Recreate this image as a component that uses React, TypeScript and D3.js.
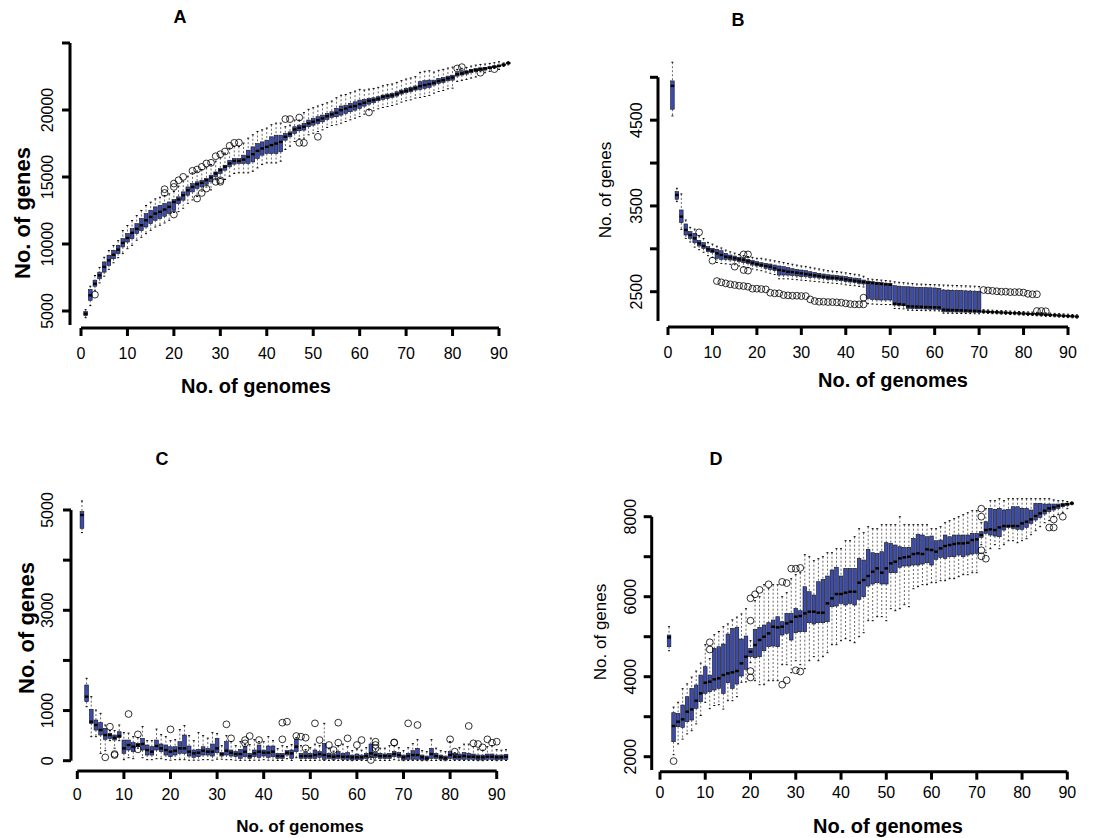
import React from "react";
import * as d3 from "d3";

const FONT = "'Liberation Sans', Arial, Helvetica, sans-serif";
const BOX_FILL = "#3B4CAE";

// ---------------- Panel A : pan-genome ----------------
const genomesA = d3.range(1, 93);
const A_lo = [4500,5400,6550,7100,7600,8110,8600,8980,9280,9650,9900,10280,10500,10770,11020,11270,11400,11570,11770,12350,12420,12670,13040,13290,13540,13950,14250,14040,14800,14900,14810,15060,15260,15310,15310,15310,15430,15680,15930,16050,16050,16050,16180,17050,17300,17650,17850,17900,18150,18270,18400,18520,18700,18850,18900,19020,19140,19270,19390,19510,19690,20000,19940,20090,20190,20260,20340,20440,20590,20690,20760,20890,20940,21010,21090,21260,21380,21460,21580,21630,22130,22210,22280,22380,22460,22850,22780,22880,23100,23030,23250,23370];
const A_q1 = [4650,5800,6850,7400,7900,8410,8900,9280,9780,10150,10400,10780,11000,11270,11520,11770,11900,12070,12270,12520,13020,13270,13640,13890,14140,14260,14460,14640,15010,15260,15510,15760,15960,16010,16010,16010,16130,16380,16630,16750,16750,16750,16880,17750,18000,18250,18450,18500,18750,18870,19000,19120,19300,19450,19500,19620,19740,19870,19990,20110,20290,20440,20540,20690,20790,20860,20940,21040,21190,21290,21360,21490,21540,21610,21690,21860,21980,22060,22180,22230,22530,22610,22680,22780,22860,22930,22980,23080,23150,23230,23330,23450];
const A_med = [4800,6170,7040,7660,8290,8780,9200,9580,10080,10450,10830,11130,11400,11770,12020,12270,12400,12570,12770,13140,13320,13640,14010,14260,14460,14560,14760,14960,15260,15510,15760,16010,16200,16200,16300,16500,16700,16950,17130,17250,17380,17500,17620,18000,18200,18550,18670,18750,19000,19120,19240,19370,19540,19670,19790,19990,20110,20240,20290,20440,20540,20690,20740,20840,20990,21040,21090,21190,21340,21430,21530,21630,21780,21860,21930,22030,22160,22230,22360,22430,22680,22730,22830,22930,22980,23050,23100,23150,23230,23300,23380,23500];
const A_q3 = [4950,6600,7300,7900,8660,9160,9530,9900,10400,10780,11150,11520,11900,12270,12520,12770,12890,13020,13140,13320,13520,13890,14260,14510,14640,14760,14890,15130,15380,15630,15880,16250,16380,16380,16630,17000,17250,17500,17620,17750,18000,18120,18120,18250,18370,18750,18870,19000,19250,19370,19500,19620,19740,19870,20120,20300,20360,20490,20610,20740,20790,20860,20910,20990,21110,21190,21240,21360,21490,21610,21690,21790,22110,22190,22230,22230,22360,22430,22530,22600,22780,22860,22930,23030,23100,23150,23180,23230,23280,23350,23430,23530];
const A_hi = [5100,6850,7650,8250,9010,9510,9880,10250,11000,11380,11750,12120,12500,12870,13120,13370,13490,13620,13740,13920,14320,14690,15060,15310,15440,15560,15690,15930,16180,16430,16780,17150,17280,17280,17530,17900,18150,18400,18520,18650,18900,19020,19020,18750,18870,19250,19250,19800,20050,20170,20300,20420,20540,20670,20920,21100,21160,21290,21410,21540,21490,21560,21610,21690,21810,21890,21940,22060,22190,22310,22390,22490,22810,22890,22930,22830,22960,23030,23130,23200,23030,23110,23180,23280,23350,23400,23430,23480,23530,23600,23510,23610];
const A_out = [[3,6220],[18,14090],[18,13810],[20,14510],[20,14260],[21,14760],[22,15010],[24,15460],[25,15560],[26,15760],[27,16010],[28,16060],[29,16550],[30,16700],[31,16900],[32,17330],[33,17550],[34,17570],[20,12200],[25,13390],[26,13810],[27,14140],[29,14640],[30,14640],[30,14760],[44,19320],[45,19320],[47,19440],[47,17550],[48,17550],[51,18000],[62,19820],[81,23100],[82,23200],[86,22780],[89,23050]];
const A_yTicks = [5000, 10000, 15000, 20000, 25000];
const A_yLabels = ["5000", "10000", "15000", "20000", ""];

// ---------------- Panel B : core genome ----------------
const genomesB = d3.range(1, 93);
const B_lo = [4550,3550,3227,3122,3080,3020,2990,2960,2920,2900,2840,2830,2825,2820,2815,2800,2790,2780,2765,2755,2745,2730,2715,2700,2650,2650,2650,2645,2640,2635,2630,2625,2620,2615,2610,2605,2600,2595,2590,2580,2575,2570,2562,2555,2360,2356,2354,2352,2350,2350,2305,2302,2300,2285,2283,2281,2280,2279,2278,2277,2276,2250,2249,2248,2247,2246,2245,2244,2243,2242,2250,2247,2244,2242,2239,2237,2234,2232,2229,2227,2224,2222,2219,2216,2213,2210,2207,2204,2201,2198,2195,2192];
const B_q1 = [4628,3578,3305,3161,3122,3070,3033,3005,2967,2955,2889,2877,2877,2870,2862,2850,2838,2830,2811,2800,2792,2772,2760,2745,2694,2694,2694,2690,2683,2675,2675,2667,2667,2659,2652,2644,2644,2636,2628,2617,2613,2605,2597,2590,2422,2410,2405,2403,2403,2403,2344,2340,2336,2305,2303,2301,2300,2298,2296,2295,2293,2266,2265,2264,2263,2262,2261,2260,2259,2258,2262,2259,2256,2254,2251,2249,2246,2244,2241,2239,2236,2234,2231,2228,2225,2222,2219,2216,2213,2210,2207,2205];
const B_med = [4900,3628,3375,3220,3161,3122,3064,3033,2994,2978,2947,2928,2908,2900,2889,2877,2870,2854,2838,2823,2811,2800,2792,2772,2753,2745,2733,2729,2722,2714,2706,2698,2690,2683,2675,2667,2663,2659,2652,2644,2636,2628,2620,2613,2605,2600,2595,2590,2585,2580,2360,2355,2350,2330,2328,2326,2324,2322,2320,2318,2316,2290,2288,2286,2284,2282,2280,2278,2276,2274,2268,2265,2262,2260,2257,2255,2252,2250,2247,2245,2242,2240,2237,2234,2231,2228,2225,2222,2219,2216,2213,2210];
const B_q3 = [4958,3667,3453,3290,3200,3180,3095,3072,3025,3005,2994,2978,2947,2928,2916,2900,2889,2877,2862,2850,2838,2830,2823,2811,2800,2792,2780,2768,2760,2753,2745,2733,2722,2714,2706,2698,2694,2690,2683,2675,2667,2659,2652,2636,2624,2617,2610,2605,2600,2597,2570,2565,2560,2558,2555,2552,2550,2548,2546,2544,2540,2520,2518,2516,2514,2512,2510,2508,2506,2504,2276,2273,2270,2268,2265,2263,2260,2258,2255,2253,2250,2248,2245,2242,2239,2236,2233,2230,2227,2224,2220,2216];
const B_hi = [5176,3706,3640,3336,3250,3230,3150,3120,3075,3055,3030,3010,2985,2965,2950,2935,2920,2910,2900,2890,2890,2880,2870,2860,2850,2840,2830,2820,2810,2800,2795,2785,2775,2765,2755,2745,2740,2735,2728,2720,2712,2704,2696,2680,2650,2645,2640,2635,2630,2625,2615,2610,2605,2600,2595,2590,2588,2586,2584,2582,2580,2578,2576,2574,2572,2570,2568,2566,2564,2560,2290,2287,2284,2282,2279,2277,2274,2272,2269,2267,2264,2262,2259,2256,2253,2250,2247,2244,2241,2238,2234,2230];
const B_out = [[7,3192],[10,2862],[15,2792],[17,2935],[18,2935],[17,2753],[18,2745],
  [11,2624],[12,2609],[13,2597],[14,2586],[15,2578],[16,2570],[17,2566],[18,2558],[19,2535],[20,2535],[21,2531],[22,2527],[23,2488],[24,2481],[25,2481],[26,2461],[27,2457],[28,2453],[29,2453],[30,2449],[31,2449],[32,2410],[33,2391],[34,2383],[35,2383],[36,2379],[37,2379],[38,2376],[39,2372],[40,2364],[41,2356],[42,2352],[43,2352],[44,2352],[44,2430],
  [71,2520],[72,2515],[73,2510],[74,2505],[75,2500],[76,2500],[77,2495],[78,2495],[79,2495],[80,2490],[81,2475],[82,2470],[83,2470],[83,2275],[84,2275],[85,2272]];
const B_yTicks = [2500, 3000, 3500, 4000, 4500, 5000];
const B_yLabels = ["2500", "", "3500", "", "4500", ""];

// ---------------- Panel C : new genes ----------------
const genomesC = d3.range(1, 93);
const C_lo = [4549,1077,479,479,146,200,400,250,400,20,60,40,250,60,20,20,40,40,20,10,20,20,20,10,10,10,20,20,10,30,30,20,20,10,5,10,5,10,10,20,10,10,5,5,40,5,60,5,5,5,5,10,5,5,5,5,5,5,0,5,5,5,30,10,5,5,5,20,10,0,5,5,5,0,0,5,5,5,0,5,5,5,5,5,5,0,0,5,5,0,5,5];
const C_q1 = [4635,1177,745,612,512,426,446,412,459,146,213,180,279,213,113,113,213,180,113,80,113,146,146,93,67,80,113,113,93,160,93,113,93,80,47,80,47,80,67,93,67,80,47,47,113,47,180,47,47,47,47,67,27,47,27,47,27,27,13,27,27,47,67,67,47,47,47,80,67,13,27,27,27,13,13,47,47,27,13,47,27,27,27,27,27,13,13,27,27,13,27,27];
const C_med = [4900,1277,778,712,612,512,512,459,492,246,313,280,313,333,213,180,293,246,213,180,200,246,246,180,146,160,200,180,180,246,133,200,160,133,133,180,93,146,180,160,160,180,93,93,160,146,280,93,93,93,113,133,113,93,80,93,80,80,67,67,67,93,146,113,93,93,93,133,113,67,93,113,113,67,47,133,93,67,47,113,80,80,93,80,80,67,67,80,80,67,67,80];
const C_q3 = [4968,1510,1024,811,758,645,545,512,578,412,412,359,346,446,313,279,412,333,313,279,279,379,512,293,213,226,279,246,333,446,160,379,213,180,226,279,146,213,313,213,293,293,146,146,200,213,426,146,160,146,213,180,346,146,133,180,146,160,113,133,113,146,333,160,146,133,146,180,160,113,146,200,246,113,93,246,146,113,93,180,146,133,160,146,133,113,113,133,133,113,113,126];
const C_hi = [5180,1643,1277,1010,944,712,600,600,712,560,550,480,460,680,400,400,630,520,480,400,420,620,700,500,400,560,500,450,560,540,300,500,380,300,380,320,320,420,380,380,480,400,240,300,280,320,460,300,220,260,330,300,745,250,190,300,330,280,200,230,210,260,450,230,250,250,300,300,260,200,260,340,420,200,180,420,250,200,180,380,160,260,330,330,280,230,210,280,300,220,210,220];
const C_out = [[6,67],[7,678],[8,133],[8,113],[11,931],[13,525],[13,226],[20,625],[32,725],[33,446],[36,346],[36,412],[37,492],[39,412],[44,758],[44,426],[45,778],[47,492],[48,479],[49,459],[49,246],[51,745],[52,412],[54,313],[55,213],[56,758],[56,359],[58,446],[60,313],[61,412],[63,13],[64,313],[64,246],[64,379],[68,359],[68,365],[71,745],[73,712],[80,426],[81,180],[84,692],[85,346],[86,333],[87,266],[88,426],[89,359],[90,379]];
const C_yTicks = [0, 1000, 2000, 3000, 4000, 5000];
const C_yLabels = ["0", "1000", "", "3000", "", "5000"];

// ---------------- Panel D : accessory genes ----------------
const genomesD = d3.range(2, 92);
const D_lo = [4650,2050,2320,2440,2570,2650,2820,3030,3360,3200,3280,3300,3190,3400,3400,3500,3860,3870,4350,3900,3800,3800,3900,3900,3900,4300,4300,4100,4400,4300,4200,4400,4500,4400,4500,4600,4800,4800,4900,4950,4900,4850,5000,5100,5400,5400,5500,5500,5400,5700,5650,5700,5800,5750,6200,6250,6300,6300,6350,6350,6400,6400,6450,6450,6500,6550,6550,6600,6600,7300,7100,7200,7300,7200,7300,7400,7400,7350,7400,7450,7550,7650,7750,7850,7900,8000,8050,8100,8200,8300];
const D_q1 = [4750,2375,2750,2733,2875,2917,3208,3375,3583,3625,3667,3708,3583,3850,3708,3817,4017,4183,4500,4475,4500,4650,4750,4767,4750,5042,5083,4917,5100,5125,5125,5350,5317,5350,5350,5375,5750,5767,5833,5792,5833,5792,5933,6000,6267,6317,6350,6317,6317,6600,6600,6733,6767,6767,6792,6792,6817,6850,6792,6933,6983,6958,7000,7000,7042,7000,7042,7067,7083,7483,7583,7542,7517,7500,7667,7733,7708,7683,7683,7733,7833,7917,7983,8067,8125,8167,8208,8250,8283,8317];
const D_med = [4983,2767,2875,2933,3125,3183,3400,3583,3850,3875,3933,3958,4042,4083,4108,4142,4333,4500,4625,4792,4917,5000,5083,5250,5233,5250,5333,5375,5500,5517,5583,5625,5625,5600,5600,5833,5958,6067,6067,6100,6125,6125,6350,6417,6517,6625,6708,6600,6708,6833,6875,6958,6983,7000,7067,7083,7067,7183,7167,7125,7208,7267,7292,7317,7333,7333,7350,7417,7433,7542,7667,7683,7667,7733,7767,7767,7767,7767,7833,7875,7933,8017,8083,8150,8208,8233,8267,8292,8317,8333];
const D_q3 = [5042,3100,3083,3292,3500,3708,3792,4042,4250,4042,4708,4750,4817,5067,5208,5233,4942,5017,4708,5183,5233,5292,5350,5417,5500,5375,5583,5583,5708,5650,6250,6125,6042,6375,6433,6517,6667,6733,6517,6708,6708,6708,6958,6917,7183,7100,7083,7125,7350,7333,7292,7250,7233,7233,7458,7558,7542,7500,7517,7400,7417,7542,7500,7542,7542,7542,7542,7583,7583,7625,7875,8208,8183,8208,8167,8183,8250,8250,8208,8208,8167,8333,8333,8317,8317,8317,8317,8333,8333,8350];
const D_hi = [5250,3240,3360,3700,3820,3990,4140,4340,4800,4450,5050,5130,5250,5320,5420,5490,5570,5700,4900,5900,6000,6300,6200,6300,6300,6000,6100,6450,6550,6600,7050,7000,6900,6950,7000,7100,7100,7200,7200,7400,7400,7500,7700,7600,7750,7700,7700,7800,7800,7800,7800,8000,7800,7800,7800,7800,7800,7800,7700,7700,7750,7850,7900,7950,8000,8050,8100,8150,8150,7850,8200,8400,8400,8450,8400,8450,8450,8450,8450,8450,8450,8450,8450,8450,8450,8420,8400,8400,8380,8370];
const D_out = [[3,1890],[11,4860],[11,4680],[20,5400],[20,5960],[21,6060],[22,6170],[24,6310],[20,4140],[20,3980],[27,6370],[28,6340],[27,3800],[28,3910],[29,6700],[30,6700],[31,6720],[30,4160],[31,4130],[71,8200],[71,8000],[71,7160],[71,7010],[72,6950],[86,7730],[87,7730],[87,7930],[89,8000]];
const D_yTicks = [2000, 3000, 4000, 5000, 6000, 7000, 8000];
const D_yLabels = ["2000", "", "4000", "", "6000", "", "8000"];

const xTicks = d3.range(0, 100, 10);

type Cfg = {
  title: string; titleX: number; titleY: number;
  genomes: number[]; lo: number[]; q1: number[]; med: number[]; q3: number[]; hi: number[];
  out: number[][];
  xRange: [number, number]; xAxisY: number; xLabelY: number;
  xTitleX: number; xTitleY: number; xTitleSize: number;
  yDomain: [number, number]; yRange: [number, number]; yAxisX: number; yLineBottom: number;
  yTicks: number[]; yLabels: string[]; yLabelX: number;
  yTitleX: number; yTitleY: number; yTitleSize: number; yTitleBold: boolean;
};

function BoxPanel({ c }: { c: Cfg }) {
  const x = d3.scaleLinear().domain([0, 90]).range(c.xRange);
  const y = d3.scaleLinear().domain(c.yDomain).range(c.yRange);
  const bw = (x(1) - x(0)) * 0.8;
  const cap = bw * 0.55;
  const yTop = y(c.yTicks[c.yTicks.length - 1]);
  return (
    <g>
      <text x={c.titleX} y={c.titleY} textAnchor="middle" dominantBaseline="central"
        fontFamily={FONT} fontWeight="bold" fontSize={18}>{c.title}</text>
      {/* whiskers */}
      {c.genomes.map((g, i) => {
        const cx = x(g);
        return (
          <g key={"w" + i} stroke="#000">
            <line x1={cx} x2={cx} y1={y(c.hi[i])} y2={y(c.q3[i])} strokeWidth={0.6} strokeDasharray="2,2" />
            <line x1={cx} x2={cx} y1={y(c.q1[i])} y2={y(c.lo[i])} strokeWidth={0.6} strokeDasharray="2,2" />
            <line x1={cx - cap / 2} x2={cx + cap / 2} y1={y(c.hi[i])} y2={y(c.hi[i])} strokeWidth={1} />
            <line x1={cx - cap / 2} x2={cx + cap / 2} y1={y(c.lo[i])} y2={y(c.lo[i])} strokeWidth={1} />
          </g>
        );
      })}
      {/* boxes */}
      {c.genomes.map((g, i) => {
        const cx = x(g);
        const top = y(c.q3[i]);
        const bot = y(c.q1[i]);
        return (
          <g key={"b" + i}>
            <rect x={cx - bw / 2} y={top} width={bw} height={Math.max(bot - top, 0.6)}
              fill={BOX_FILL} stroke="#111" strokeWidth={0.6} />
            <line x1={cx - bw / 2} x2={cx + bw / 2} y1={y(c.med[i])} y2={y(c.med[i])}
              stroke="#000" strokeWidth={2.4} />
          </g>
        );
      })}
      {/* outliers */}
      {c.out.map((o, i) => (
        <circle key={"o" + i} cx={x(o[0])} cy={y(o[1])} r={3.4} fill="none" stroke="#000" strokeWidth={0.8} />
      ))}
      {/* x axis */}
      <g stroke="#000" strokeWidth={3}>
        <line x1={x(0)} x2={x(90)} y1={c.xAxisY} y2={c.xAxisY} />
        {xTicks.map((t) => (
          <line key={t} x1={x(t)} x2={x(t)} y1={c.xAxisY} y2={c.xAxisY + 8} />
        ))}
      </g>
      {xTicks.map((t) => (
        <text key={"xl" + t} x={x(t)} y={c.xLabelY} textAnchor="middle" dominantBaseline="central"
          fontFamily={FONT} fontSize={16}>{t}</text>
      ))}
      <text x={c.xTitleX} y={c.xTitleY} textAnchor="middle" dominantBaseline="central"
        fontFamily={FONT} fontWeight="bold" fontSize={c.xTitleSize}>No. of genomes</text>
      {/* y axis */}
      <g stroke="#000" strokeWidth={3}>
        <line x1={c.yAxisX} x2={c.yAxisX} y1={yTop} y2={c.yLineBottom} />
        {c.yTicks.map((t) => (
          <line key={t} x1={c.yAxisX - 8} x2={c.yAxisX} y1={y(t)} y2={y(t)} />
        ))}
      </g>
      {c.yTicks.map((t, i) => (
        <text key={"yl" + t} transform={`translate(${c.yLabelX},${y(t)}) rotate(-90)`}
          textAnchor="middle" dominantBaseline="central" fontFamily={FONT} fontSize={16}>{c.yLabels[i]}</text>
      ))}
      <text transform={`translate(${c.yTitleX},${c.yTitleY}) rotate(-90)`} textAnchor="middle"
        dominantBaseline="central" fontFamily={FONT} fontWeight={c.yTitleBold ? "bold" : "normal"}
        fontSize={c.yTitleSize}>No. of genes</text>
    </g>
  );
}

const panelA: Cfg = {
  title: "A", titleX: 180, titleY: 17,
  genomes: genomesA, lo: A_lo, q1: A_q1, med: A_med, q3: A_q3, hi: A_hi, out: A_out,
  xRange: [81, 499], xAxisY: 328, xLabelY: 353, xTitleX: 256, xTitleY: 386, xTitleSize: 20,
  yDomain: [5000, 25000], yRange: [311, 43], yAxisX: 70, yLineBottom: 325,
  yTicks: A_yTicks, yLabels: A_yLabels, yLabelX: 47,
  yTitleX: 22, yTitleY: 213, yTitleSize: 22, yTitleBold: true,
};
const panelB: Cfg = {
  title: "B", titleX: 738, titleY: 20,
  genomes: genomesB, lo: B_lo, q1: B_q1, med: B_med, q3: B_q3, hi: B_hi, out: B_out,
  xRange: [668, 1068], xAxisY: 327, xLabelY: 352, xTitleX: 893, xTitleY: 380, xTitleSize: 20,
  yDomain: [2500, 5000], yRange: [291.7, 77.3], yAxisX: 658, yLineBottom: 321,
  yTicks: B_yTicks, yLabels: B_yLabels, yLabelX: 636,
  yTitleX: 605, yTitleY: 190, yTitleSize: 17, yTitleBold: false,
};
const panelC: Cfg = {
  title: "C", titleX: 162, titleY: 459,
  genomes: genomesC, lo: C_lo, q1: C_q1, med: C_med, q3: C_q3, hi: C_hi, out: C_out,
  xRange: [77.3, 496.7], xAxisY: 771, xLabelY: 794, xTitleX: 300, xTitleY: 826, xTitleSize: 17,
  yDomain: [0, 5000], yRange: [760.7, 510], yAxisX: 71, yLineBottom: 760.7,
  yTicks: C_yTicks, yLabels: C_yLabels, yLabelX: 47,
  yTitleX: 26, yTitleY: 628, yTitleSize: 22, yTitleBold: true,
};
const panelD: Cfg = {
  title: "D", titleX: 716, titleY: 459,
  genomes: genomesD, lo: D_lo, q1: D_q1, med: D_med, q3: D_q3, hi: D_hi, out: D_out,
  xRange: [660, 1067.3], xAxisY: 771.7, xLabelY: 792, xTitleX: 888, xTitleY: 826, xTitleSize: 20,
  yDomain: [2000, 8000], yRange: [756.7, 516.7], yAxisX: 651.7, yLineBottom: 770,
  yTicks: D_yTicks, yLabels: D_yLabels, yLabelX: 630,
  yTitleX: 600, yTitleY: 632, yTitleSize: 17, yTitleBold: false,
};

export default function App() {
  return (
    <svg width={1113} height={838} viewBox="0 0 1113 838"
      style={{ position: "absolute", left: 0, top: 0, background: "#fff" }}>
      <rect x={0} y={0} width={1113} height={838} fill="#fff" />
      <BoxPanel c={panelA} />
      <BoxPanel c={panelB} />
      <BoxPanel c={panelC} />
      <BoxPanel c={panelD} />
    </svg>
  );
}
